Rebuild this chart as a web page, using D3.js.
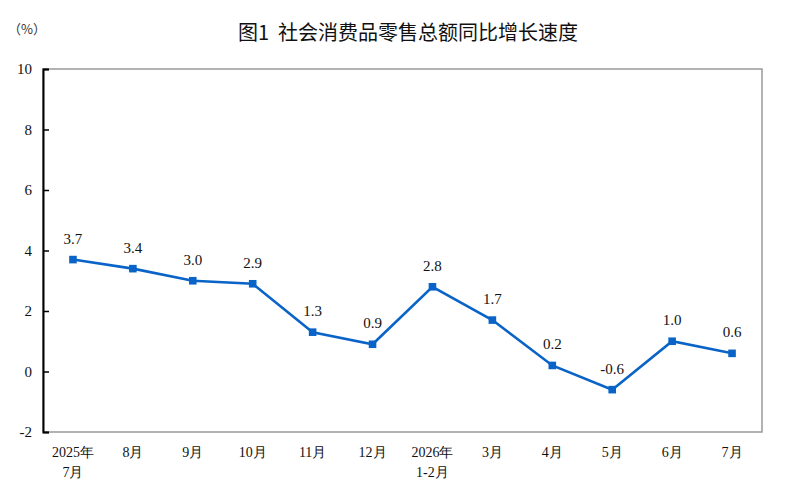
<!DOCTYPE html>
<html><head><meta charset="utf-8">
<script src="https://cdn.jsdelivr.net/npm/d3@7"></script>
<style>body{margin:0;background:#fff}</style>
</head><body><svg id="c" width="798" height="489"></svg>
<script>
const categories = ["2025年\n7月","8月","9月","10月","11月","12月","2026年\n1-2月","3月","4月","5月","6月","7月"];
const values = [3.7,3.4,3.0,2.9,1.3,0.9,2.8,1.7,0.2,-0.6,1.0,0.6];
const yTicks = [-2,0,2,4,6,8,10];
const title = "图1  社会消费品零售总额同比增长速度";
const unit = "（%）";

const svg = d3.select("#c");
const L=43,R=762,T=69,B=432;
const x = d3.scalePoint().domain(d3.range(categories.length)).range([L,R]).padding(0.5);
const y = d3.scaleLinear().domain([-2,10]).range([B,T]);
const serif = "Liberation Serif, Times New Roman, serif";
const fmtY = d => String(d);
const fmtV = d => d.toFixed(1);

svg.append("text").attr("x",408).attr("y",40).attr("text-anchor","middle")
  .attr("font-family","Noto Sans CJK SC, sans-serif").attr("font-size",20).attr("font-weight",400)
  .style("white-space","pre").attr("fill","#111").text(title);
svg.append("text").attr("x",8).attr("y",34).attr("font-family","Noto Sans CJK SC, sans-serif")
  .attr("font-size",13).attr("fill","#333").text(unit);

// frame
svg.append("rect").attr("x",L).attr("y",T).attr("width",R-L).attr("height",B-T)
  .attr("fill","none").attr("stroke","#999").attr("stroke-width",1.5);

const ya = svg.append("g").attr("transform",`translate(${L},0)`)
  .call(d3.axisLeft(y).tickValues(yTicks).tickSize(-6).tickPadding(11).tickFormat(fmtY));
ya.attr("font-family",serif).attr("font-size",15);
ya.select(".domain").attr("stroke","#000").attr("stroke-width",2);
ya.selectAll(".tick line").attr("stroke","#000").attr("stroke-width",1.5);
ya.selectAll("text").attr("fill","#111");

// x labels
const xl = svg.append("g").attr("font-family",serif).attr("font-size",14).attr("fill","#111");
categories.forEach((c,i)=>{
  const t = xl.append("text").attr("x",x(i)).attr("y",457).attr("text-anchor","middle");
  c.split("\n").forEach((s,j)=>{
    t.append("tspan").attr("x",x(i)).attr("dy",j?20:0).text(s);
  });
});

const line = d3.line().x((d,i)=>x(i)).y(d=>y(d));
svg.append("path").datum(values).attr("d",line).attr("fill","none")
  .attr("stroke","#0A64C8").attr("stroke-width",2.6).attr("stroke-linejoin","miter");
svg.selectAll("rect.m").data(values).enter().append("rect").attr("class","m")
  .attr("x",(d,i)=>x(i)-3.8).attr("y",d=>y(d)-3.8).attr("width",7.6).attr("height",7.6)
  .attr("fill","#0A64C8");
svg.append("g").attr("font-family",serif).attr("font-size",15).attr("fill","#111")
  .selectAll("text").data(values).enter().append("text")
  .attr("x",(d,i)=>x(i)).attr("y",d=>y(d)-16).attr("text-anchor","middle")
  .text(fmtV);
</script></body></html>
